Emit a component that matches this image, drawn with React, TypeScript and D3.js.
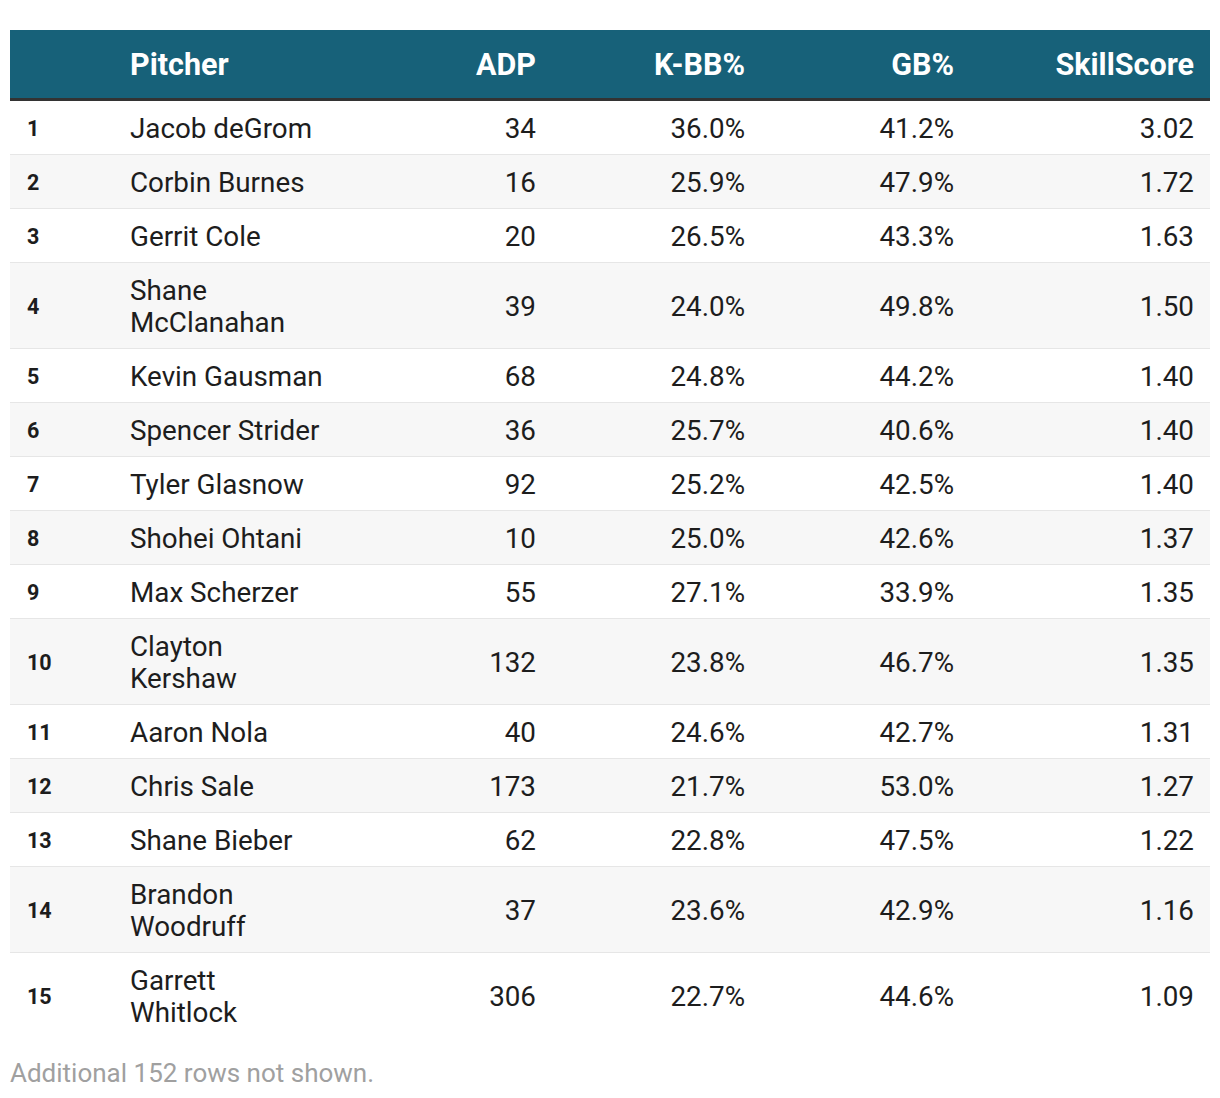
import React, { useMemo } from "react";
import * as d3 from "d3";

const columns = ["", "Pitcher", "ADP", "K-BB%", "GB%", "SkillScore"];
const pitchers = [
  "Jacob deGrom", "Corbin Burnes", "Gerrit Cole", "Shane McClanahan", "Kevin Gausman",
  "Spencer Strider", "Tyler Glasnow", "Shohei Ohtani", "Max Scherzer", "Clayton Kershaw",
  "Aaron Nola", "Chris Sale", "Shane Bieber", "Brandon Woodruff", "Garrett Whitlock",
];
const adp = [34, 16, 20, 39, 68, 36, 92, 10, 55, 132, 40, 173, 62, 37, 306];
const kbb = [36.0, 25.9, 26.5, 24.0, 24.8, 25.7, 25.2, 25.0, 27.1, 23.8, 24.6, 21.7, 22.8, 23.6, 22.7];
const gb = [41.2, 47.9, 43.3, 49.8, 44.2, 40.6, 42.5, 42.6, 33.9, 46.7, 42.7, 53.0, 47.5, 42.9, 44.6];
const skill = [3.02, 1.72, 1.63, 1.5, 1.4, 1.4, 1.4, 1.37, 1.35, 1.35, 1.31, 1.27, 1.22, 1.16, 1.09];
const footnote = "Additional 152 rows not shown.";

const W = 1220;
const H = 1098;
const FONT = "Roboto, 'Noto Sans', sans-serif";
const BODY_SIZE = 27.8;
const LINE_H = 32;
const PAD = 11;
const WRAP_W = 196;

function wrap(text: string, ctx: CanvasRenderingContext2D | null): string[] {
  if (!ctx) return [text];
  const words = text.split(" ");
  const lines: string[] = [];
  let cur = "";
  for (const w of words) {
    const test = cur ? cur + " " + w : w;
    if (cur && ctx.measureText(test).width > WRAP_W) {
      lines.push(cur);
      cur = w;
    } else cur = test;
  }
  if (cur) lines.push(cur);
  return lines;
}

export default function App() {
  const rows = useMemo(() => {
    const canvas = document.createElement("canvas");
    const ctx = canvas.getContext("2d");
    if (ctx) ctx.font = `${BODY_SIZE}px Roboto`;
    let y = 101;
    return pitchers.map((name, i) => {
      const lines = wrap(name, ctx);
      const h = lines.length * LINE_H + 2 * PAD;
      const r = { i, name, lines, y, h };
      y += h;
      return r;
    });
  }, []);

  const last = rows[rows.length - 1];
  const tableBottom = last.y + last.h;

  const colX = d3.scaleOrdinal<string, number>().domain(columns).range([27, 130, 536, 745, 954, 1194]);
  const pct = d3.format(".1f");
  const sc = d3.format(".2f");

  const valueCols: { key: string; fmt: (i: number) => string }[] = [
    { key: "ADP", fmt: (i) => String(adp[i]) },
    { key: "K-BB%", fmt: (i) => pct(kbb[i]) + "%" },
    { key: "GB%", fmt: (i) => pct(gb[i]) + "%" },
    { key: "SkillScore", fmt: (i) => sc(skill[i]) },
  ];

  return (
    <div style={{ position: "absolute", left: 0, top: 0 }}>
      <svg width={W} height={H} style={{ display: "block", fontFamily: FONT }}>
        <rect x={0} y={0} width={W} height={H} fill="#ffffff" />
        <rect x={10} y={30} width={1200} height={68} fill="#176179" />
        <rect x={10} y={98} width={1200} height={3} fill="#333333" />
        {columns.map((c, k) =>
          c ? (
            <text
              key={c}
              x={colX(c)}
              y={64}
              dy="0.35em"
              textAnchor={k <= 1 ? "start" : "end"}
              fill="#ffffff"
              fontWeight={700}
              fontSize={30.5}
            >
              {c}
            </text>
          ) : null
        )}
        {rows.map((r) => {
          const mid = r.y + r.h / 2;
          return (
            <g key={r.i}>
              <rect x={10} y={r.y} width={1200} height={r.h} fill={r.i % 2 === 1 ? "#f7f7f7" : "#ffffff"} />
              {r.i < rows.length - 1 && (
                <rect x={10} y={r.y + r.h - 1} width={1200} height={2} fill="#e6e6e6" />
              )}
              <text x={colX("")} y={mid} dy="0.35em" fontSize={21.5} fontWeight={700} fill="#1d1d1d">
                {r.i + 1}
              </text>
              {r.lines.map((ln, j) => (
                <text
                  key={j}
                  x={colX("Pitcher")}
                  y={r.y + PAD + LINE_H / 2 + j * LINE_H}
                  dy="0.35em"
                  fontSize={BODY_SIZE}
                  fill="#1d1d1d"
                >
                  {ln}
                </text>
              ))}
              {valueCols.map((vc) => (
                <text
                  key={vc.key}
                  x={colX(vc.key)}
                  y={mid}
                  dy="0.35em"
                  textAnchor="end"
                  fontSize={BODY_SIZE}
                  fill="#1d1d1d"
                >
                  {vc.fmt(r.i)}
                </text>
              ))}
            </g>
          );
        })}
        <text x={10} y={tableBottom + 34} dy="0.35em" fontSize={26} fill="#a0a0a0">
          {footnote}
        </text>
      </svg>
    </div>
  );
}
